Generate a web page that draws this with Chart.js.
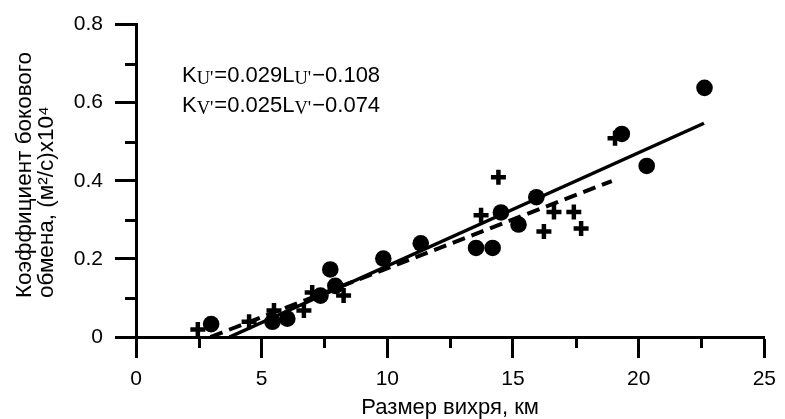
<!DOCTYPE html>
<html>
<head>
<meta charset="utf-8">
<script src="https://cdn.jsdelivr.net/npm/chart.js@4/dist/chart.umd.min.js"></script>
<style>
  html, body { margin: 0; padding: 0; background: #fff; }
</style>
</head>
<body>
<canvas id="scatterChart" width="785" height="419"></canvas>
<script>
// U' component: eddy size (km) and lateral exchange coefficient
var sizeU = [2.99, 5.43, 6.02, 7.34, 7.73, 7.93, 9.84, 11.33, 13.53, 14.19, 14.52, 15.22, 15.93, 19.33, 20.32, 22.62];
var coefU = [0.033, 0.039, 0.047, 0.106, 0.173, 0.131, 0.201, 0.240, 0.228, 0.228, 0.319, 0.288, 0.358, 0.520, 0.438, 0.638];

// V' component
var sizeV = [2.46, 4.50, 5.49, 6.68, 7.01, 8.26, 13.73, 14.42, 16.23, 16.63, 17.42, 17.71, 19.06];
var coefV = [0.019, 0.039, 0.068, 0.068, 0.114, 0.106, 0.312, 0.409, 0.270, 0.320, 0.320, 0.278, 0.509];

// linear fits: [slope, intercept] and the size range they cover
var fitU = [0.029, -0.108];
var fitV = [0.025, -0.074];
var rangeU = [3.72, 22.6];
var rangeV = [2.96, 18.93];

var xLimits = [0, 25, 5];
var yLimits = [0, 0.8, 0.2];

var SANS = "'Liberation Sans', Arial, sans-serif";
var SERIF = "'Liberation Serif', 'Times New Roman', serif";

function pts(xs, ys) {
  return xs.map(function (x, i) { return { x: x, y: ys[i] }; });
}
function fitLine(fit, range) {
  return range.map(function (x) { return { x: x, y: fit[0] * x + fit[1] }; });
}

// half-step ticks without labels
var minorTicks = {
  id: 'minorTicks',
  afterDraw: function (chart) {
    var ctx = chart.ctx, a = chart.chartArea;
    var sx = chart.scales.x, sy = chart.scales.y;
    ctx.save();
    ctx.strokeStyle = '#000';
    ctx.lineWidth = 3;
    ctx.beginPath();
    for (var v = xLimits[2] / 2; v < xLimits[1]; v += xLimits[2]) {
      var px = Math.round(sx.getPixelForValue(v)) + 0.5;
      ctx.moveTo(px, a.bottom);
      ctx.lineTo(px, a.bottom + 11);
    }
    for (var w = yLimits[2] / 2; w < yLimits[1]; w += yLimits[2]) {
      var py = Math.round(sy.getPixelForValue(w)) + 0.5;
      ctx.moveTo(a.left, py);
      ctx.lineTo(a.left - 11, py);
    }
    ctx.stroke();
    ctx.restore();
  }
};

// y title (two lines, start-aligned) and the fit equations
var annotations = {
  id: 'annotations',
  afterDraw: function (chart) {
    var ctx = chart.ctx;
    ctx.save();
    ctx.fillStyle = '#000';
    ctx.textBaseline = 'alphabetic';
    ctx.textAlign = 'left';

    ctx.save();
    ctx.translate(0, 298);
    ctx.rotate(-Math.PI / 2);
    ctx.font = '22.5px ' + SANS;
    ctx.fillText('Коэффициент бокового', 0, 31);
    ctx.fillText('обмена, (м²/с)x10⁴', 0, 53);
    ctx.restore();

    function equation(sub, fit, x, y) {
      var parts = [
        ['K', SANS, 22, 0],
        [sub, SERIF, 18.5, 2],
        ['=' + fit[0].toFixed(3) + 'L', SANS, 22, 0],
        [sub, SERIF, 18.5, 2],
        ['\u2212' + Math.abs(fit[1]).toFixed(3), SANS, 22, 0]
      ];
      parts.forEach(function (p) {
        ctx.font = p[2] + 'px ' + p[1];
        ctx.fillText(p[0], x, y + p[3]);
        x += ctx.measureText(p[0]).width + (p[1] === SERIF ? 1 : 0);
      });
    }
    equation("U'", fitU, 182, 82);
    equation("V'", fitV, 182, 112);
    ctx.restore();
  }
};

var ctx = document.getElementById('scatterChart').getContext('2d');
var myChart = new Chart(ctx, {
  type: 'scatter',
  data: {
    datasets: [
      {
        label: "U'",
        data: pts(sizeU, coefU),
        pointStyle: 'circle',
        pointRadius: 8.3,
        pointBackgroundColor: '#000',
        pointBorderWidth: 0,
        order: 0
      },
      {
        label: "V'",
        data: pts(sizeV, coefV),
        pointStyle: 'cross',
        pointRadius: 7.5,
        pointBorderColor: '#000',
        pointBorderWidth: 4.5,
        order: 1
      },
      {
        type: 'line',
        label: "fit U'",
        data: fitLine(fitU, rangeU),
        borderColor: '#000',
        borderWidth: 3.5,
        pointRadius: 0,
        order: 2
      },
      {
        type: 'line',
        label: "fit V'",
        data: fitLine(fitV, rangeV),
        borderColor: '#000',
        borderWidth: 4,
        borderDash: [13, 7],
        pointRadius: 0,
        order: 2
      }
    ]
  },
  options: {
    responsive: false,
    animation: false,
    layout: {
      padding: { top: 20, right: 16, bottom: 0, left: 0 }
    },
    plugins: {
      legend: { display: false },
      tooltip: { enabled: false }
    },
    scales: {
      x: {
        type: 'linear',
        min: xLimits[0],
        max: xLimits[1],
        ticks: {
          stepSize: xLimits[2],
          color: '#000',
          padding: 9,
          maxRotation: 0,
          font: { family: SANS, size: 21 }
        },
        grid: {
          drawOnChartArea: false,
          tickLength: 21,
          tickWidth: 3,
          tickColor: '#000'
        },
        border: { color: '#000', width: 3 },
        title: {
          display: true,
          text: 'Размер вихря, км',
          color: '#000',
          padding: 0,
          font: { family: SANS, size: 22, lineHeight: 1 }
        },
        afterFit: function (s) { s.height = 82; }
      },
      y: {
        type: 'linear',
        min: yLimits[0],
        max: yLimits[1],
        ticks: {
          stepSize: yLimits[2],
          color: '#000',
          padding: 12,
          font: { family: SANS, size: 21 }
        },
        grid: {
          drawOnChartArea: false,
          tickLength: 21,
          tickWidth: 3,
          tickColor: '#000'
        },
        border: { color: '#000', width: 3 },
        afterFit: function (s) { s.width = 136; }
      }
    }
  },
  plugins: [minorTicks, annotations]
});
</script>
</body>
</html>
